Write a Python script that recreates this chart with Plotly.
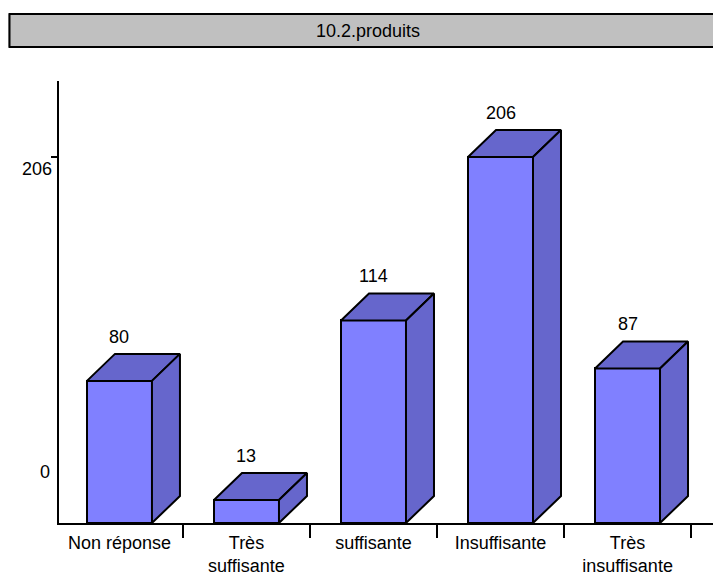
import plotly.graph_objects as go

title = "10.2.produits"
categories = ["Non réponse", "Très<br>suffisante", "suffisante", "Insuffisante", "Très<br>insuffisante"]
values = [80, 13, 114, 206, 87]
ytick_vals = [0, 206]

FRONT = "#8080FF"
SIDE = "#6666CC"
FONT = dict(family="Arial, Liberation Sans, sans-serif", size=18, color="black")

# the page body adds an 8px margin; geometry below is in figure pixels
W, H = 713, 568
ML, MR, MT = 51, 0, 73
ph = 442
MB = H - MT - ph
pw = W - ML - MR
xr = [-0.476, 4.736]
yr = [0, 248.8]
px_x = pw / (xr[1] - xr[0])
px_y = ph / (yr[1] - yr[0])
bw = 65 / px_x          # bar width in data units
ddx = 28 / px_x         # depth offset x
ddy = 27 / px_y         # depth offset y

fig = go.Figure()

# 3D faces
for i, v in enumerate(values):
    xl, xrr = i - bw / 2, i + bw / 2
    fig.add_trace(go.Scatter(
        x=[xl, xl + ddx, xrr + ddx, xrr, xl],
        y=[v, v + ddy, v + ddy, v, v],
        fill="toself", fillcolor=SIDE, mode="lines",
        line=dict(color="black", width=2), hoverinfo="skip", showlegend=False))
    fig.add_trace(go.Scatter(
        x=[xrr, xrr, xrr + ddx, xrr + ddx, xrr],
        y=[0, v, v + ddy, ddy, 0],
        fill="toself", fillcolor=SIDE, mode="lines",
        line=dict(color="black", width=2), hoverinfo="skip", showlegend=False))

fig.add_trace(go.Bar(
    x=list(range(len(values))), y=values, width=bw,
    marker=dict(color=FRONT, line=dict(color="black", width=2)),
    showlegend=False, hoverinfo="skip"))

# value labels
for i, v in enumerate(values):
    fig.add_annotation(x=i, y=v + ddy, text=str(v), showarrow=False,
                       yshift=17, font=FONT, xanchor="center", yanchor="middle")

# y tick labels
fig.add_annotation(x=0, xref="paper", y=ytick_vals[1], text=str(ytick_vals[1]),
                   showarrow=False, xanchor="right", yanchor="middle",
                   xshift=-5, yshift=-12, font=FONT)
fig.add_annotation(x=0, xref="paper", y=ytick_vals[0], text=str(ytick_vals[0]),
                   showarrow=False, xanchor="right", yanchor="middle",
                   xshift=-7, yshift=51, font=FONT)

# title box (right side runs off the page, so no right border)
plot_bottom = H - MB
bx0 = (0 - ML) / pw
bx1 = 1.05
by0 = (plot_bottom - 39) / ph
by1 = (plot_bottom - 6) / ph
fig.add_shape(type="rect", xref="paper", yref="paper",
              x0=bx0, x1=bx1, y0=by0, y1=by1,
              fillcolor="#C0C0C0", line=dict(width=0), layer="above")
fig.add_shape(type="path", xref="paper", yref="paper",
              path=f"M {bx1},{by1} L {bx0 + 1.5 / pw},{by1} L {bx0 + 1.5 / pw},{by0} L {bx1},{by0}",
              line=dict(color="black", width=2), layer="above")
fig.add_annotation(xref="paper", yref="paper", x=(360 - ML) / pw, y=(plot_bottom - 23) / ph,
                   text=title, showarrow=False, font=FONT, xanchor="center", yanchor="middle")

fig.update_layout(
    width=W, height=H,
    margin=dict(l=ML, r=MR, t=MT, b=MB, autoexpand=False),
    plot_bgcolor="white", paper_bgcolor="white",
    bargap=0,
    xaxis=dict(range=xr, tickmode="array", tickvals=list(range(len(values))),
               ticktext=categories, ticks="", ticklabelstandoff=2, automargin=False,
               showgrid=False, zeroline=False,
               showline=True, linecolor="black", linewidth=2,
               tickfont=FONT, fixedrange=True),
    xaxis2=dict(range=xr, overlaying="x", anchor="y", side="bottom", automargin=False,
                tickmode="array", tickvals=[0.5, 1.5, 2.5, 3.5, 4.5],
                showticklabels=False, ticks="outside", ticklen=14, tickwidth=2,
                tickcolor="black", showgrid=False, zeroline=False, showline=False),
    yaxis=dict(range=yr, tickmode="array", tickvals=[ytick_vals[1]], showticklabels=False,
               ticks="outside", ticklen=6, tickwidth=2, tickcolor="black", automargin=False,
               showgrid=False, zeroline=False, showline=True, linecolor="black",
               linewidth=2, fixedrange=True),
)
fig.add_trace(go.Scatter(x=[None], y=[None], xaxis="x2", yaxis="y", showlegend=False))

fig.write_html("out.html")
